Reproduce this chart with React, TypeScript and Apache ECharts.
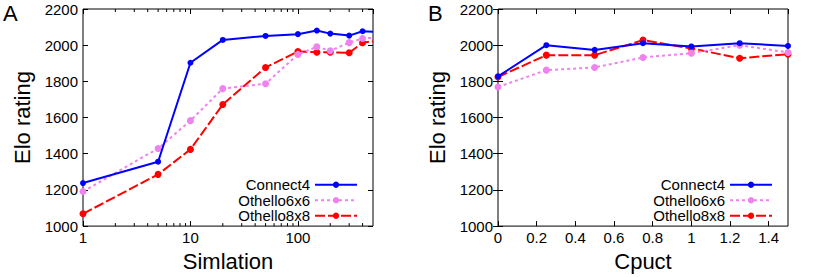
import React, { useEffect, useRef } from "react";
import * as echarts from "echarts";

// Panel A: Elo rating vs number of simulations (log x axis)
const simulations = [1, 5, 10, 20, 50, 100, 150, 200, 300, 400, 500];
const simConnect4 = [1238, 1356, 1903, 2029, 2051, 2061, 2081, 2064, 2053, 2077, 2074];
const simOthello6 = [1191, 1429, 1583, 1760, 1787, 1949, 1991, 1969, 2014, 2037, 2041];
const simOthello8 = [1068, 1286, 1424, 1672, 1877, 1965, 1961, 1961, 1958, 2013, 2022];

// Panel B: Elo rating vs Cpuct
const cpuct = [0, 0.25, 0.5, 0.75, 1, 1.25, 1.5];
const cpConnect4 = [1828, 2000, 1974, 2011, 1993, 2011, 1996];
const cpOthello6 = [1769, 1862, 1877, 1932, 1956, 2000, 1960];
const cpOthello8 = [1824, 1945, 1945, 2028, 1982, 1928, 1950];

const seriesNames = ["Connect4", "Othello6x6", "Othello8x8"];
const logMinorTicks = [2, 3, 4, 5, 6, 7, 8, 9, 20, 30, 40, 50, 60, 70, 80, 90, 200, 300, 400];

const FONT = "Liberation Sans, Arial, Helvetica, sans-serif";

const styles = [
  { color: "#0000ff", type: "solid" as any, symbolSize: 6 },
  { color: "#ee82ee", type: [3, 3] as any, symbolSize: 7 },
  { color: "#ff0000", type: [10, 3] as any, symbolSize: 7 },
];

function lineSeries(name: string, idx: number, xs: number[], ys: number[], axisIdx: number, lastHidden: boolean) {
  const s = styles[idx];
  return {
    name,
    type: "line",
    xAxisIndex: axisIdx,
    yAxisIndex: axisIdx * 2,
    data: xs.map((x, i) =>
      lastHidden && i === xs.length - 1 ? { value: [x, ys[i]], symbol: "none" } : [x, ys[i]]
    ),
    symbol: "circle",
    symbolSize: s.symbolSize,
    clip: true,
    itemStyle: { color: s.color },
    lineStyle: { color: s.color, width: 2, type: s.type },
    z: 3 - idx + 2,
  };
}

export default function App() {
  const ref = useRef<HTMLDivElement>(null);
  useEffect(() => {
    document.body.style.margin = "0";
    const chart = echarts.init(ref.current!, undefined, { renderer: "svg" });

    const labelStyle = { color: "#000", fontSize: 15, fontFamily: FONT };
    const nameStyle = { color: "#000", fontSize: 22, fontFamily: FONT };
    const tick = { show: true, inside: true, length: 5, lineStyle: { color: "#000", width: 1 } };
    const plain = (v: number) => String(v);

    const grids = [
      { left: 83, top: 9, width: 290, height: 218, show: true, borderColor: "#000", borderWidth: 1, backgroundColor: "transparent" },
      { left: 498, top: 9, width: 290, height: 218, show: true, borderColor: "#000", borderWidth: 1, backgroundColor: "transparent" },
    ];

    const yAxes: any[] = [];
    [0, 1].forEach((g) => {
      yAxes.push({
        type: "value",
        gridIndex: g,
        min: 1000,
        max: 2200,
        interval: 200,
        position: "left",
        name: "Elo rating",
        nameLocation: "middle",
        nameGap: 50,
        nameTextStyle: nameStyle,
        axisLine: { show: false },
        axisTick: tick,
        axisLabel: { ...labelStyle, margin: 5, formatter: plain },
        splitLine: { show: false },
      });
      yAxes.push({
        type: "value",
        gridIndex: g,
        min: 1000,
        max: 2200,
        interval: 200,
        position: "right",
        axisLine: { show: false },
        axisTick: tick,
        axisLabel: { show: false },
        splitLine: { show: false },
      });
    });

    const xAxes: any[] = [
      {
        type: "log",
        logBase: 10,
        gridIndex: 0,
        min: 1,
        max: 500,
        position: "bottom",
        name: "Simlation",
        nameLocation: "middle",
        nameGap: 19,
        nameTextStyle: nameStyle,
        axisLine: { show: false },
        axisTick: tick,
        axisLabel: { ...labelStyle, margin: 4, showMaxLabel: false, formatter: plain },
        splitLine: { show: false },
      },
      {
        type: "value",
        gridIndex: 1,
        min: 0,
        max: 1.5,
        interval: 0.2,
        position: "bottom",
        name: "Cpuct",
        nameLocation: "middle",
        nameGap: 19,
        nameTextStyle: nameStyle,
        axisLine: { show: false },
        axisTick: tick,
        axisLabel: { ...labelStyle, margin: 4, showMaxLabel: false, formatter: plain },
        splitLine: { show: false },
      },
      {
        type: "log",
        logBase: 10,
        gridIndex: 0,
        min: 1,
        max: 500,
        position: "top",
        axisLine: { show: false },
        axisTick: tick,
        axisLabel: { show: false },
        splitLine: { show: false },
      },
      {
        type: "value",
        gridIndex: 1,
        min: 0,
        max: 1.5,
        interval: 0.2,
        position: "top",
        axisLine: { show: false },
        axisTick: tick,
        axisLabel: { show: false },
        splitLine: { show: false },
      },
    ];

    const minorTickSeries = {
      type: "custom",
      xAxisIndex: 0,
      yAxisIndex: 0,
      silent: true,
      data: logMinorTicks.map((v) => [v, 1000]),
      renderItem: (params: any, api: any) => {
        const v = api.value(0);
        const b = api.coord([v, 1000]);
        const t = api.coord([v, 2200]);
        return {
          type: "group",
          children: [
            { type: "line", shape: { x1: b[0], y1: b[1], x2: b[0], y2: b[1] - 3 }, style: { stroke: "#000", lineWidth: 1 } },
            { type: "line", shape: { x1: t[0], y1: t[1], x2: t[0], y2: t[1] + 3 }, style: { stroke: "#000", lineWidth: 1 } },
          ],
        };
      },
    };

    const legendBase = {
      orient: "vertical",
      align: "right",
      itemWidth: 42,
      itemHeight: 8,
      itemGap: 0,
      padding: 0,
      top: 177,
      textStyle: { color: "#000", fontSize: 15, fontFamily: FONT, lineHeight: 15.5 },
      data: seriesNames,
    };

    chart.setOption({
      animation: false,
      backgroundColor: "#fff",
      title: [
        { text: "A", left: 3, top: 2, padding: 0, textStyle: { fontSize: 22, fontWeight: "normal", color: "#000", fontFamily: FONT } },
        { text: "B", left: 428, top: 2, padding: 0, textStyle: { fontSize: 22, fontWeight: "normal", color: "#000", fontFamily: FONT } },
      ],
      grid: grids,
      xAxis: xAxes,
      yAxis: yAxes,
      legend: [
        { ...legendBase, right: 472 },
        { ...legendBase, right: 57 },
      ],
      series: [
        lineSeries(seriesNames[0], 0, simulations, simConnect4, 0, true),
        lineSeries(seriesNames[1], 1, simulations, simOthello6, 0, true),
        lineSeries(seriesNames[2], 2, simulations, simOthello8, 0, true),
        lineSeries(seriesNames[0], 0, cpuct, cpConnect4, 1, false),
        lineSeries(seriesNames[1], 1, cpuct, cpOthello6, 1, false),
        lineSeries(seriesNames[2], 2, cpuct, cpOthello8, 1, false),
        minorTickSeries,
      ],
    });
    return () => chart.dispose();
  }, []);
  return <div ref={ref} style={{ width: 830, height: 277 }} />;
}
